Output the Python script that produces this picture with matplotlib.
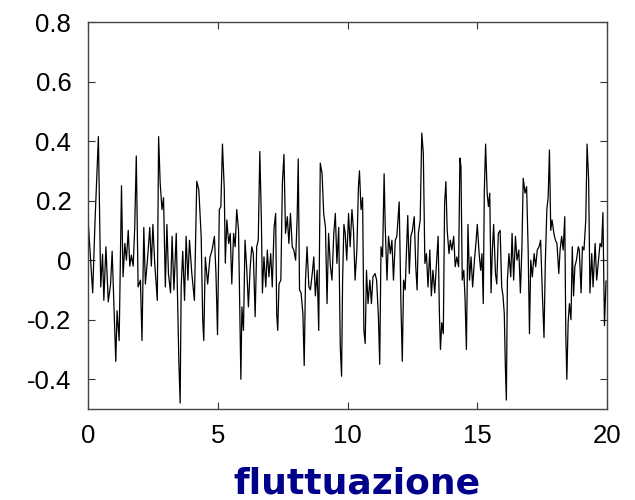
import matplotlib
matplotlib.use("Agg")
import matplotlib.pyplot as plt

# time (x) and fluctuation value (y)
t = [0.00, 0.18, 0.27, 0.40, 0.49, 0.56, 0.61, 0.69, 0.78, 0.87, 0.93, 1.03, 1.07, 1.12, 1.20,
     1.29, 1.35, 1.42, 1.48, 1.55, 1.61, 1.67, 1.74, 1.80, 1.86, 1.93, 2.02, 2.08, 2.15, 2.21,
     2.29, 2.38, 2.44, 2.50, 2.57, 2.67, 2.72, 2.78, 2.85, 2.91, 2.98, 3.04, 3.10, 3.18, 3.24,
     3.31, 3.40, 3.50, 3.55, 3.59, 3.65, 3.72, 3.78, 3.85, 3.91, 4.00, 4.10, 4.19, 4.27, 4.36,
     4.42, 4.46, 4.52, 4.61, 4.70, 4.78, 4.87, 4.93, 4.99, 5.06, 5.12, 5.18, 5.25, 5.29, 5.35,
     5.42, 5.48, 5.54, 5.61, 5.67, 5.73, 5.80, 5.86, 5.89, 5.93, 5.99, 6.05, 6.12, 6.18, 6.25,
     6.31, 6.37, 6.44, 6.50, 6.56, 6.62, 6.68, 6.72, 6.78, 6.85, 6.91, 6.97, 7.04, 7.10, 7.17,
     7.23, 7.27, 7.31, 7.36, 7.43, 7.49, 7.55, 7.61, 7.68, 7.74, 7.80, 7.87, 7.93, 8.00, 8.06,
     8.10, 8.15, 8.21, 8.28, 8.33, 8.38, 8.44, 8.51, 8.57, 8.64, 8.70, 8.76, 8.83, 8.89, 8.95,
     9.02, 9.08, 9.15, 9.21, 9.27, 9.34, 9.40, 9.47, 9.53, 9.59, 9.66, 9.72, 9.77, 9.81, 9.86,
     9.91, 9.97, 10.04, 10.10, 10.17, 10.23, 10.29, 10.36, 10.42, 10.46, 10.52, 10.58, 10.63,
     10.68, 10.73, 10.79, 10.86, 10.92, 10.98, 11.06, 11.12, 11.19, 11.24, 11.29, 11.35, 11.41,
     11.45, 11.52, 11.58, 11.65, 11.71, 11.77, 11.84, 11.90, 11.95, 11.99, 12.06, 12.11, 12.16,
     12.22, 12.27, 12.32, 12.38, 12.44, 12.50, 12.57, 12.63, 12.68, 12.73, 12.80, 12.86, 12.92,
     12.98, 13.04, 13.10, 13.17, 13.23, 13.29, 13.36, 13.42, 13.49, 13.54, 13.58, 13.63, 13.69,
     13.74, 13.79, 13.84, 13.91, 13.96, 14.02, 14.09, 14.15, 14.21, 14.28, 14.33, 14.37, 14.42,
     14.48, 14.53, 14.58, 14.64, 14.70, 14.76, 14.82, 14.89, 14.95, 15.00, 15.07, 15.13, 15.18,
     15.23, 15.27, 15.32, 15.38, 15.43, 15.48, 15.53, 15.58, 15.63, 15.70, 15.75, 15.81, 15.88,
     15.94, 15.99, 16.04, 16.08, 16.12, 16.16, 16.22, 16.29, 16.34, 16.40, 16.47, 16.53, 16.60,
     16.66, 16.72, 16.77, 16.84, 16.90, 16.96, 17.01, 17.06, 17.12, 17.19, 17.25, 17.31, 17.38,
     17.44, 17.51, 17.57, 17.62, 17.68, 17.73, 17.78, 17.83, 17.88, 17.95, 18.01, 18.07, 18.14,
     18.19, 18.25, 18.31, 18.37, 18.41, 18.45, 18.50, 18.55, 18.61, 18.66, 18.71, 18.76, 18.82,
     18.89, 18.93, 19.00, 19.05, 19.11, 19.18, 19.23, 19.29, 19.34, 19.41, 19.46, 19.54, 19.60,
     19.66, 19.73, 19.79, 19.84, 19.90, 19.96]
fluct = [0.14, -0.11, 0.13, 0.415, -0.09, 0.02, -0.135, 0.045, -0.14, -0.08, 0.03, -0.24, -0.34, -0.17, -0.27,
         0.25, -0.056, 0.056, 0.0, 0.10, -0.02, 0.017, -0.02, 0.11, 0.35, -0.09, -0.067, -0.27, 0.11, -0.08,
         0.0, 0.11, -0.02, 0.12, -0.01, -0.135, 0.415, 0.26, 0.17, 0.21, -0.09, 0.12, -0.045, -0.11, 0.08,
         -0.10, 0.09, -0.34, -0.48, -0.09, 0.03, -0.135, 0.08, -0.067, 0.067, -0.045, -0.135, 0.265, 0.236, 0.08,
         -0.20, -0.27, 0.01, -0.08, 0.01, 0.034, 0.08, -0.045, -0.25, 0.17, 0.18, 0.39, 0.24, -0.01, 0.135,
         0.056, 0.09, -0.08, 0.09, 0.045, 0.17, 0.10, -0.225, -0.40, -0.157, -0.236, 0.067, -0.034, -0.157, -0.022,
         0.045, 0.022, -0.19, 0.045, 0.067, 0.365, 0.135, -0.11, 0.011, -0.09, 0.034, -0.056, 0.022, -0.09, 0.11,
         0.157, -0.18, -0.236, -0.08, -0.067, 0.26, 0.355, 0.09, 0.146, 0.056, 0.157, 0.045, 0.034, 0.0, 0.146,
         0.34, -0.10, -0.11, -0.18, -0.354, -0.067, 0.045, -0.09, -0.10, -0.045, 0.011, -0.12, -0.034, -0.236, 0.326,
         0.29, 0.157, 0.11, -0.146, 0.09, -0.022, -0.067, 0.09, 0.157, -0.011, 0.11, -0.29, -0.39, -0.067, 0.12,
         0.09, 0.0, 0.157, 0.045, 0.17, 0.10, -0.067, 0.034, 0.247, 0.30, 0.17, 0.21, -0.236,
         -0.28, -0.034, -0.146, -0.067, -0.146, -0.056, -0.045, -0.067, -0.19, -0.35, 0.045, 0.011, 0.29,
         0.12, -0.067, 0.08, 0.022, 0.067, -0.067, 0.067, 0.08, 0.146, 0.196, -0.157, -0.34, -0.067,
         -0.10, 0.022, 0.15, -0.045, 0.08, 0.10, 0.146, -0.022, -0.10, 0.09, 0.135, 0.427, 0.36,
         -0.011, 0.022, -0.09, 0.034, -0.12, -0.034, -0.11, -0.022, 0.08, -0.18, -0.30, -0.21, -0.247,
         0.19, 0.264, 0.10, 0.022, 0.067, 0.034, 0.08, -0.022, 0.011, -0.022, 0.343, 0.315, -0.067,
         -0.034, -0.135, -0.30, 0.12, -0.067, 0.011, -0.09, 0.0, 0.06, 0.12, 0.022, -0.034, 0.022,
         -0.146, 0.23, 0.39, 0.225, 0.18, 0.225, -0.11, 0.034, 0.12, -0.045, -0.08, 0.09, 0.10,
         -0.09, -0.12, -0.18, -0.354, -0.47, -0.067, 0.022, -0.056, 0.09, -0.067, 0.08, 0.0, 0.034,
         -0.11, 0.045, 0.275, 0.225, 0.247, 0.034, -0.247, 0.0, -0.056, 0.022, -0.022, 0.034, 0.045,
         0.067, -0.12, -0.26, -0.011, 0.17, 0.21, 0.37, 0.10, 0.135, 0.09, 0.067, 0.056, -0.045,
         0.034, 0.08, 0.034, 0.146, -0.247, -0.40, -0.21, -0.146, -0.20, 0.045, -0.12, -0.022, 0.0,
         0.045, 0.034, -0.11, 0.045, 0.034, 0.135, 0.39, 0.27, -0.11, 0.022, -0.09, 0.056, -0.067,
         -0.011, 0.056, 0.045, 0.16, -0.22, -0.07]

yticks = [-0.4, -0.2, 0, 0.2, 0.4, 0.6, 0.8]
ytick_labels = ["-0.4", "-0.2", "0", "0.2", "0.4", "0.6", "0.8"]
xticks = [0, 5, 10, 15, 20]
xtick_labels = ["0", "5", "10", "15", "20"]

fig = plt.figure(figsize=(6.35, 5.0), dpi=100)
ax = fig.add_axes([0.1386, 0.182, 0.8174, 0.774])
ax.plot(t, fluct, color="black", lw=0.9)

ax.set_xlim(0, 20)
ax.set_ylim(-0.5, 0.8)
ax.set_xticks(xticks)
ax.set_xticklabels(xtick_labels)
ax.set_yticks(yticks)
ax.set_yticklabels(ytick_labels)
ax.tick_params(direction="in", length=5, width=0.8, color="#333333",
               top=True, right=True, labelsize=18.5)
ax.tick_params(axis="y", pad=12)
ax.tick_params(axis="x", pad=11)
for lab in ax.get_xticklabels() + ax.get_yticklabels():
    lab.set_fontfamily("Liberation Sans")
for sp in ax.spines.values():
    sp.set_color("#444444")
    sp.set_linewidth(1.0)

fig.text(0.562, 0.034, "fluttuazione", ha="center", va="center",
         fontsize=26, fontweight="bold", color="#00008B", family="DejaVu Sans")

fig.savefig("out.png", dpi=100)
